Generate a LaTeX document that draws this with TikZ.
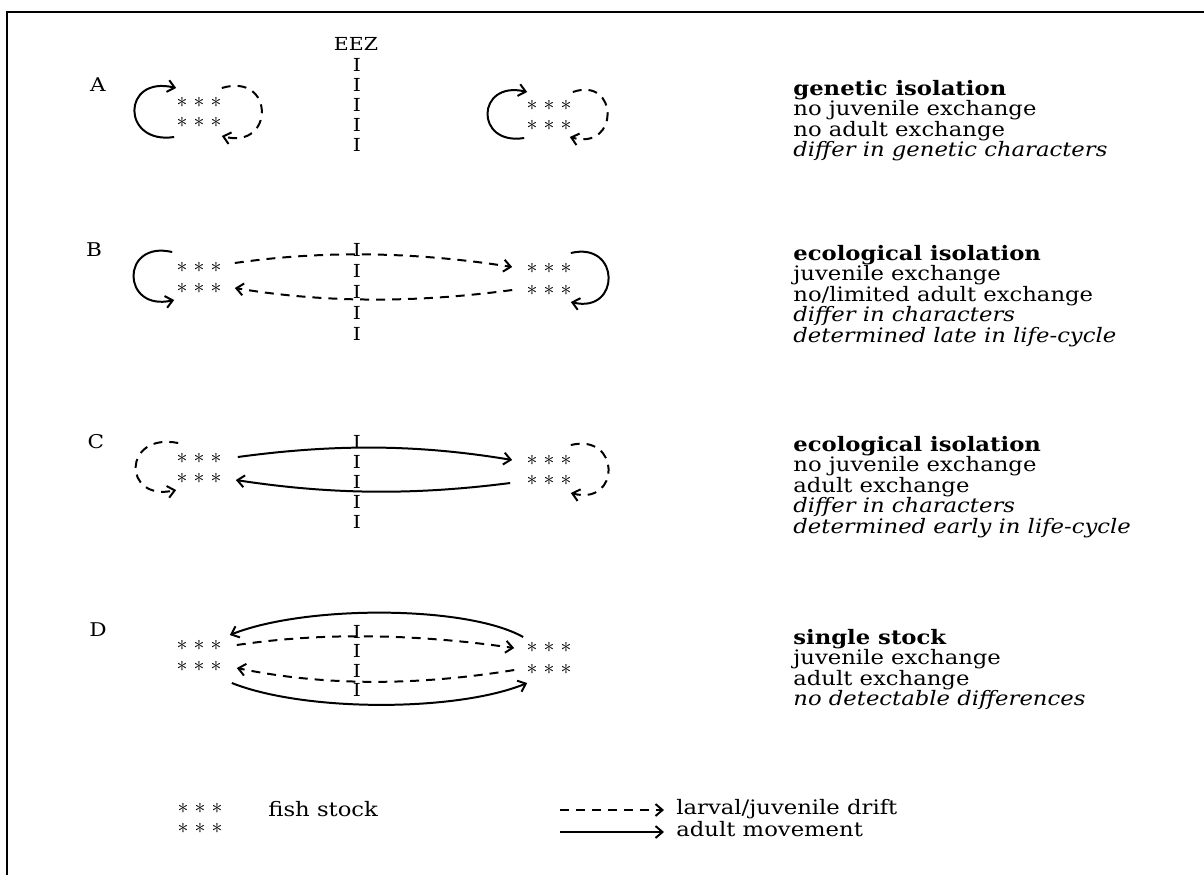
\documentclass[tikz,border=0pt]{standalone}
\usepackage{fontspec}
\setmainfont{DejaVu Serif}[FakeStretch=1.14]
\usetikzlibrary{arrows.meta}
\setlength{\lineskiplimit}{-10pt}

\begin{document}
\begin{tikzpicture}[x=0.5bp, y=-0.5bp,
    stock/.style={inner sep=0pt, font=\fontsize{11}{12}\selectfont},
    eez/.style={inner sep=0pt, font=\fontsize{9}{11}\selectfont},
    panel/.style={inner sep=0pt, font=\fontsize{9.5}{11}\selectfont},
    info/.style={inner sep=0pt, anchor=north west, align=left, font=\fontsize{10}{10.25}\selectfont},
    legend/.style={inner sep=0pt, anchor=base west, font=\fontsize{10}{10.25}\selectfont},
    adult/.style={line width=1pt, -{Straight Barb[length=3.5pt,width=6pt]}},
    drift/.style={adult, dash pattern=on 4.5pt off 3.5pt}]
    \newcommand*{\stars}{$\ast\mkern1mu\ast\mkern1mu\ast$}
    \newcommand*{\eezx}{357}
    \useasboundingbox (0,0) rectangle (1204,875);
    \draw[line width=1bp] (1204,12) -- (7,12) -- (7,875);
    % EEZ boundary
    \node[eez] (eez) at (356,44) {EEZ};
    \foreach \y [count=\i] in {65,85,...,145} {\node[eez] (IA\i) at (\eezx,\y) {I};}
    \foreach \y [count=\i] in {250,271,...,334} {\node[eez] (IB\i) at (\eezx,\y) {I};}
    \foreach \y [count=\i] in {442,462,...,522} {\node[eez] (IC\i) at (\eezx,\y) {I};}
    \foreach \y [count=\i] in {632,651,671,690} {\node[eez] (ID\i) at (\eezx,\y) {I};}
    % panels and stocks
    \node[panel] (labA) at (98,85) {A};
    \node[panel] (labB) at (94,250) {B};
    \node[panel] (labC) at (96,442) {C};
    \node[panel] (labD) at (98,630) {D};
    \foreach \p/\ya/\yb/\yc/\yd in {A/102/122/105/125, B/267/288/268/290, C/458/478/460/480, D/645/666/647/669} {
        \node[stock] (\p lt) at (199,\ya) {\stars};
        \node[stock] (\p lb) at (199,\yb) {\stars};
        \node[stock] (\p rt) at (549,\yc) {\stars};
        \node[stock] (\p rb) at (549,\yd) {\stars};
    }
    % A
    \draw[adult] ([shift={(-2,15)}]Alb.west) .. controls +(-53,8) and +(-55,-13) .. ([shift={(0,-14)}]Alt.west);
    \draw[drift] ([shift={(0,-14)}]Alt.east) .. controls +(53,-16) and +(53,14) .. ([shift={(0,14)}]Alb.east);
    \draw[adult] ([shift={(-2,13)}]Arb.west) .. controls +(-50,8) and +(-51,-12) .. ([shift={(1,-13)}]Art.west);
    \draw[drift] ([shift={(1,-13)}]Art.east) .. controls +(46,-16) and +(50,14) .. ([shift={(-2,12)}]Arb.east);
    % B
    \draw[adult] ([shift={(-4,-15)}]Blt.west) .. controls +(-52,-12) and +(-53,12) .. ([shift={(-2,12)}]Blb.west);
    \draw[adult] ([shift={(-1,-15)}]Brt.east) .. controls +(50,-12) and +(50,12) .. ([shift={(-1,12)}]Brb.east);
    \draw[drift] ([shift={(13,-4)}]Blt.east) .. controls +(90,-13) and +(-96,-15) .. ([shift={(-14,-1)}]Brt.west);
    \draw[drift] ([shift={(-14,0)}]Brb.west) .. controls +(-96,13) and +(90,15) .. ([shift={(13,0)}]Blb.east);
    % C
    \draw[drift] ([shift={(2,-15)}]Clt.west) .. controls +(-56,-11) and +(-54,12) .. ([shift={(0,12)}]Clb.west);
    \draw[drift] ([shift={(-1,-15)}]Crt.east) .. controls +(50,-12) and +(50,13) .. ([shift={(-1,13)}]Crb.east);
    \draw[adult] ([shift={(16,-1)}]Clt.east) .. controls +(96,-13) and +(-96,-16) .. ([shift={(-14,0)}]Crt.west);
    \draw[adult] ([shift={(-16,3)}]Crb.west) .. controls +(-94,12) and +(98,15) .. ([shift={(14,2)}]Clb.east);
    % D
    \draw[adult] ([shift={(-3,-10)}]Drt.west) .. controls +(-57,-32) and +(75,-30) .. ([shift={(8,-10)}]Dlt.east);
    \draw[drift] ([shift={(15,0)}]Dlt.east) .. controls +(87,-13) and +(-98,-14) .. ([shift={(-12,1)}]Drt.west);
    \draw[drift] ([shift={(-12,1)}]Drb.west) .. controls +(-98,16) and +(87,18) .. ([shift={(15,2)}]Dlb.east);
    \draw[adult] ([shift={(10,17)}]Dlb.east) .. controls +(73,29) and +(-71,29) .. ([shift={(1,14)}]Drb.west);
    % descriptions
    \node[info] (txtA) at (793,80) {\textbf{genetic isolation}\\no juvenile exchange\\no adult exchange\\\textit{differ in genetic characters}};
    \node[info] (txtB) at (793,245) {\textbf{ecological isolation}\\juvenile exchange\\no/limited adult exchange\\\textit{differ in characters}\\\textit{determined late in life-cycle}};
    \node[info] (txtC) at (793,436) {\textbf{ecological isolation}\\no juvenile exchange\\adult exchange\\\textit{differ in characters}\\\textit{determined early in life-cycle}};
    \node[info] (txtD) at (793,629) {\textbf{single stock}\\juvenile exchange\\adult exchange\\\textit{no detectable differences}};
    % legend
    \node[stock] (Llt) at (200,808) {\stars};
    \node[stock] (Llb) at (200,828) {\stars};
    \node[legend] (lstock) at (268,816) {fish stock};
    \node[legend] (ldrift) at (676,814) {larval/juvenile drift};
    \node[legend] (ladult) at (676,836) {adult movement};
    \coordinate (ldash) at (560,810);
    \coordinate (lline) at (560,832);
    \draw[drift] (ldash) -- ([shift={(-12,-4)}]ldrift.base west);
    \draw[adult] (lline) -- ([shift={(-12,-4)}]ladult.base west);
\end{tikzpicture}
\end{document}
